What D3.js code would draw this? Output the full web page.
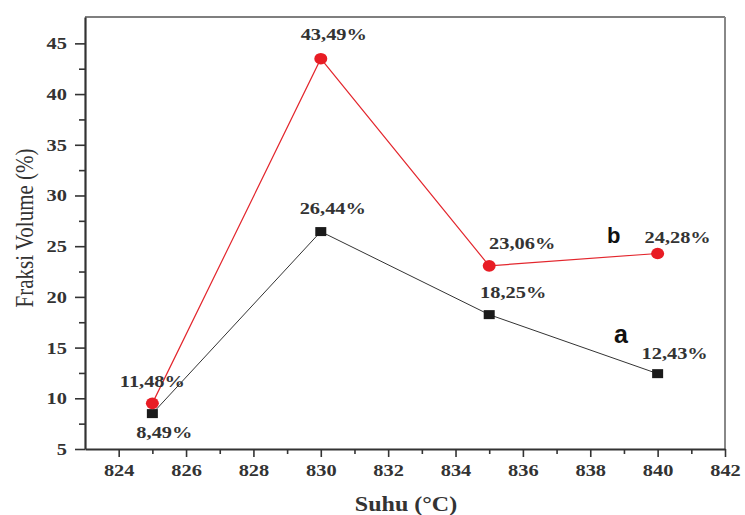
<!DOCTYPE html>
<html>
<head>
<meta charset="utf-8">
<script src="https://cdn.jsdelivr.net/npm/d3@7"></script>
<style>
  body { margin: 0; background: #fff; }
  svg { display: block; }
</style>
</head>
<body>
<div id="chart"></div>
<script>
// data
var suhu = [825, 830, 835, 840];
var seriesA = [8.49, 26.44, 18.25, 12.43];
var seriesB = [9.5, 43.49, 23.06, 24.28];   // first point is drawn near 9.5 although labelled 11,48
var labelsA = ["8,49%", "26,44%", "18,25%", "12,43%"];
var labelsB = ["11,48%", "43,49%", "23,06%", "24,28%"];
var xTicks = [824, 826, 828, 830, 832, 834, 836, 838, 840, 842];
var yTicks = [5, 10, 15, 20, 25, 30, 35, 40, 45];

// label nudges (px) so they sit where the original puts them
var offA = [[12, 24], [12, -18], [24, -17], [17, -15]];
var offB = [[0, -16], [13, -19], [33, -17], [20, -10]];

var w = 745, h = 515;
var margin = {top: 17, right: 20, bottom: 66, left: 85};
var width = w - margin.left - margin.right;
var height = h - margin.top - margin.bottom;
var stretch = 1.2; // the source image is stretched sideways

var svg = d3.select("#chart").append("svg")
    .attr("width", w)
    .attr("height", h);

var g = svg.append("g")
    .attr("transform", `translate(${margin.left},${margin.top})`);

var x = d3.scaleLinear().domain([823, 842]).range([0, width]);
var y = d3.scaleLinear().domain([5, 47.6]).range([height, 0]);

// frame top / right
g.append("line").attr("x1", 0).attr("x2", width).attr("y1", 0).attr("y2", 0)
    .attr("stroke", "#555").attr("stroke-width", 1.5);
g.append("line").attr("x1", width).attr("x2", width).attr("y1", 0).attr("y2", height)
    .attr("stroke", "#888").attr("stroke-width", 2);

var serif = "'Liberation Serif', 'Times New Roman', serif";

// minor ticks
var xMinor = d3.range(825, 842, 2);
var yMinor = d3.range(7.5, 47.5, 5);

var xAxis = g.append("g")
    .attr("transform", `translate(0,${height})`)
    .call(d3.axisBottom(x).tickValues(xTicks).tickSize(8).tickSizeOuter(0).tickFormat(d3.format("d")));
g.append("g")
    .attr("transform", `translate(0,${height})`)
    .call(d3.axisBottom(x).tickValues(xMinor).tickSize(5).tickSizeOuter(0).tickFormat(""))
    .select(".domain").remove();

var yAxis = g.append("g")
    .call(d3.axisLeft(y).tickValues(yTicks).tickSize(10).tickSizeOuter(0));
g.append("g")
    .call(d3.axisLeft(y).tickValues(yMinor).tickSize(6).tickSizeOuter(0).tickFormat(""))
    .select(".domain").remove();

g.selectAll(".domain").attr("stroke", "#333").attr("stroke-width", 2.2);
g.selectAll(".tick line").attr("stroke", "#333").attr("stroke-width", 1.6);

xAxis.selectAll("text")
    .attr("y", 15)
    .attr("dy", "0.71em")
    .attr("transform", `scale(${stretch},1)`)
    .style("font-family", serif).style("font-size", "17px").style("font-weight", "bold")
    .attr("fill", "#333");
yAxis.selectAll("text")
    .attr("x", -15)
    .attr("transform", `scale(${stretch},1)`)
    .style("font-family", serif).style("font-size", "17px").style("font-weight", "bold")
    .attr("fill", "#333");

// lines
var line = d3.line().x((d, i) => x(suhu[i])).y(d => y(d));

g.append("path").datum(seriesA)
    .attr("d", line).attr("fill", "none")
    .attr("stroke", "#333").attr("stroke-width", 1);
g.append("path").datum(seriesB)
    .attr("d", line).attr("fill", "none")
    .attr("stroke", "#e3262d").attr("stroke-width", 1.2);

// markers
g.selectAll(".sq").data(seriesA).enter().append("rect")
    .attr("class", "sq")
    .attr("x", (d, i) => x(suhu[i]) - 5.5)
    .attr("y", d => y(d) - 4.5)
    .attr("width", 11).attr("height", 9)
    .attr("fill", "#1a1a1a");

g.selectAll(".dot").data(seriesB).enter().append("ellipse")
    .attr("class", "dot")
    .attr("cx", (d, i) => x(suhu[i]))
    .attr("cy", d => y(d))
    .attr("rx", 6.5).attr("ry", 5.8)
    .attr("fill", "#e81c24");

// value labels
function valueLabels(vals, labs, off) {
  g.selectAll(null).data(vals).enter().append("text")
    .attr("transform", (d, i) =>
      `translate(${x(suhu[i]) + off[i][0]},${y(d) + off[i][1]}) scale(${stretch},1)`)
    .attr("text-anchor", "middle")
    .style("font-family", serif).style("font-size", "17px").style("font-weight", "bold")
    .attr("fill", "#333")
    .text((d, i) => labs[i]);
}
valueLabels(seriesA, labelsA, offA);
valueLabels(seriesB, labelsB, offB);

// series letters
svg.append("text").attr("x", 607).attr("y", 243)
    .style("font-family", "'Liberation Sans', Arial, sans-serif")
    .style("font-size", "22px").style("font-weight", "bold")
    .attr("fill", "#111").text("b");
svg.append("text").attr("x", 614).attr("y", 343)
    .style("font-family", "'Liberation Sans', Arial, sans-serif")
    .style("font-size", "25px").style("font-weight", "bold")
    .attr("fill", "#111").text("a");

// axis titles
svg.append("text")
    .attr("transform", `translate(406,511) scale(${stretch},1)`)
    .attr("text-anchor", "middle")
    .style("font-family", serif).style("font-size", "20px").style("font-weight", "bold")
    .attr("fill", "#333")
    .text("Suhu (\u00B0C)");

svg.append("text")
    .attr("transform", `translate(33,228) scale(${stretch},1) rotate(-90)`)
    .attr("text-anchor", "middle")
    .style("font-family", serif).style("font-size", "21px")
    .attr("fill", "#333")
    .text("Fraksi Volume (%)");
</script>
</body>
</html>
